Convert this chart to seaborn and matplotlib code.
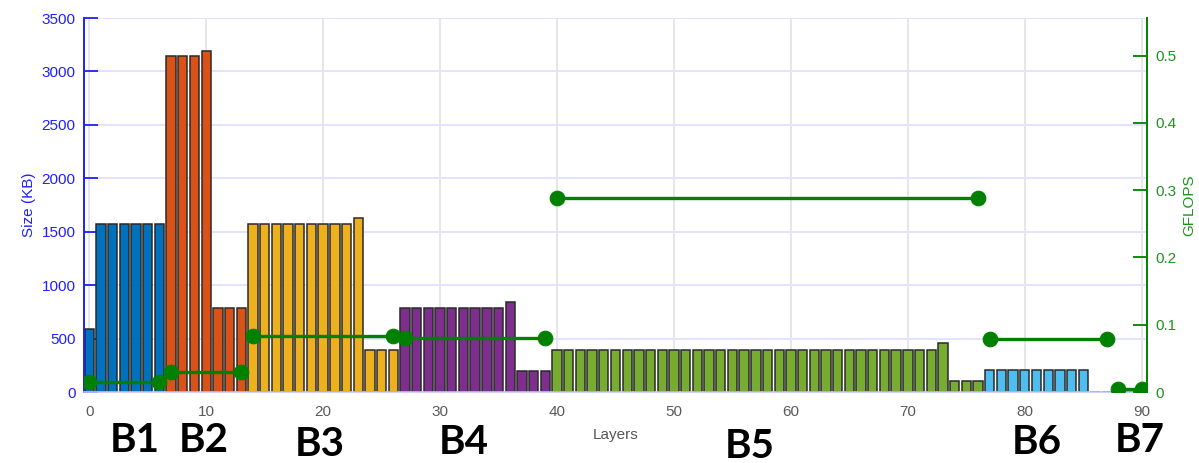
import matplotlib
matplotlib.use("Agg")
import matplotlib.pyplot as plt
import matplotlib.transforms as mtransforms
import pandas as pd
import seaborn as sns

# ---- data -----------------------------------------------------------------
block_names = ["B1", "B2", "B3", "B4", "B5", "B6", "B7"]

# memory size per layer (KB), one list per block, in layer order
b1_sizes = [590, 1570, 1570, 1570, 1570, 1570, 1570]
b2_sizes = [3140, 3140, 3140, 3190, 785, 785, 785]
b3_sizes = [1570, 1570, 1570, 1570, 1570, 1570, 1570, 1570, 1570, 1625,
            395, 395, 395]
b4_sizes = [786, 786, 786, 786, 786, 786, 786, 786, 786, 842,
            200, 200, 200]
b5_sizes = [396, 396, 396, 396, 396, 396, 396, 396, 396, 396,
            396, 396, 396, 396, 396, 396, 396, 396, 396, 396,
            396, 396, 396, 396, 396, 396, 396, 396, 396, 396,
            396, 396, 396, 457, 106, 106, 106]
b6_sizes = [207, 207, 207, 207, 207, 207, 207, 207, 207, 3, 3]
b7_sizes = [3, 3, 3]
block_sizes = [b1_sizes, b2_sizes, b3_sizes, b4_sizes, b5_sizes, b6_sizes, b7_sizes]

# throughput of each block (GFLOPS)
block_gflops = [0.015, 0.029, 0.083, 0.081, 0.288, 0.079, 0.005]

block_colors = ["#0072BD", "#D95319", "#EDB120", "#7E2F8E",
                "#77AC30", "#4DBEEE", "#A2142F"]

x_ticks = [0, 10, 20, 30, 40, 50, 60, 70, 80, 90]
size_ticks = [0, 500, 1000, 1500, 2000, 2500, 3000, 3500]
gflops_ticks = [0, 0.1, 0.2, 0.3, 0.4, 0.5]

# ---- tables ---------------------------------------------------------------
rows, seg_rows = [], []
layer = 0
for name, sizes, gf in zip(block_names, block_sizes, block_gflops):
    first = layer
    for s in sizes:
        rows.append({"layer": layer, "size": s, "block": name})
        layer += 1
    last = layer - 1
    seg_rows.append({"layer": first, "gflops": gf, "block": name})
    seg_rows.append({"layer": last, "gflops": gf, "block": name})
bars = pd.DataFrame(rows)
segs = pd.DataFrame(seg_rows)

# ---- figure ---------------------------------------------------------------
sns.set_theme(style="white")
plt.rcParams["font.family"] = ["Liberation Sans", "DejaVu Sans"]

W, H = 1199, 463
fig = plt.figure(figsize=(W / 100, H / 100), dpi=100)
ax = fig.add_axes([84 / W, 71 / H, (1147 - 84) / W, (392 - 18) / H])

sns.barplot(data=bars, x="layer", y="size", hue="block",
            palette=dict(zip(block_names, block_colors)), saturation=1,
            native_scale=True, width=0.8, dodge=False, errorbar=None,
            edgecolor="#2a2a2a", linewidth=1.1, legend=False, ax=ax)

ax.set_xlim(-0.45, 90.45)
ax.set_ylim(0, 3500)
ax.set_xticks(x_ticks)
ax.set_xticklabels([str(t) for t in x_ticks])
ax.set_yticks(size_ticks)
ax.set_yticklabels([str(t) for t in size_ticks])
ax.set_axisbelow(True)
ax.yaxis.grid(True, color="#e3e3ff", linewidth=1.4)
ax.xaxis.grid(True, color="#e4e4e8", linewidth=1.3)

blue = "#1f1fff"
ax.tick_params(axis="y", direction="in", length=10, width=1.3,
               color=blue, labelcolor=blue, labelsize=11, pad=6,
               left=True)
ax.tick_params(axis="x", length=0, labelcolor="#5a5a5a", labelsize=11, pad=9)
for side in ("top", "right"):
    ax.spines[side].set_visible(False)
ax.spines["left"].set_color(blue)
ax.spines["left"].set_linewidth(1.4)
ax.spines["bottom"].set_color("#c6c6f4")
ax.spines["bottom"].set_linewidth(1.2)
ax.set_ylabel("Size (KB)", color=blue, fontsize=11, labelpad=4)
ax.set_xlabel("Layers", color="#555555", fontsize=11, labelpad=7)

# GFLOPS on a secondary axis
green = "#008000"
ax2 = ax.twinx()
sns.lineplot(data=segs, x="layer", y="gflops", units="block", estimator=None,
             color=green, linewidth=2.4, marker="o", markersize=10.5,
             markeredgecolor=green, markeredgewidth=0.8, ax=ax2)
ax2.set_xlim(-0.45, 90.45)
ax2.set_ylim(0, 0.556)
ax2.set_yticks(gflops_ticks)
ax2.set_yticklabels(["0" if t == 0 else f"{t:.1f}" for t in gflops_ticks])
ax2.tick_params(axis="y", direction="in", length=10, width=1.3,
                color=green, labelcolor="#1d941d", labelsize=11, pad=6,
                right=True)
for side in ("top", "left", "bottom"):
    ax2.spines[side].set_visible(False)
ax2.spines["right"].set_color(green)
ax2.spines["right"].set_linewidth(1.4)
ax2.set_ylabel("GFLOPS", color="#1d941d", fontsize=11, labelpad=4)
ax2.set_xlabel("")

# block names beneath the layer axis
label_x = [3.9, 9.8, 19.75, 32.0, 56.5, 81.0, 89.85]
label_y_px = [440, 440, 444, 442, 446, 442, 440]
trans = mtransforms.blended_transform_factory(ax.transData, fig.transFigure)
for name, lx, ly in zip(block_names, label_x, label_y_px):
    ax.text(lx, 1 - ly / H, name, transform=trans, ha="center", va="center",
            fontsize=29, fontweight="bold", color="black",
            family=["Liberation Sans Narrow", "Lato", "DejaVu Sans"],
            clip_on=False)

fig.savefig("out.png", dpi=100)
